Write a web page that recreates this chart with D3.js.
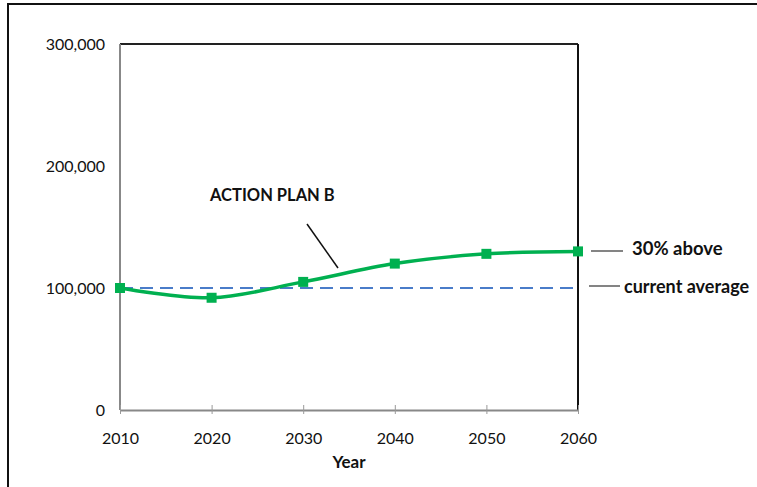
<!DOCTYPE html>
<html>
<head>
<meta charset="utf-8">
<script src="https://cdn.jsdelivr.net/npm/d3@7"></script>
<style>
  body { margin: 0; background: #fff; }
  text { font-family: Lato, "Open Sans", sans-serif; fill: #111; }
</style>
</head>
<body>
<svg width="757" height="487"></svg>
<script>
var years = [2010, 2020, 2030, 2040, 2050, 2060];
var planB = [100000, 92000, 105000, 120000, 128000, 130000];
var currentAverage = 100000;
var yTicks = [0, 100000, 200000, 300000];

var svg = d3.select("svg");

// outer frame
svg.append("path")
  .attr("d", "M8,487 V4 H757")
  .attr("fill", "none")
  .attr("stroke", "#111")
  .attr("stroke-width", 2);

var plotL = 120, plotR = 578, plotT = 44, plotB = 410;

var x = d3.scaleLinear().domain([2010, 2060]).range([plotL, plotR]);
var y = d3.scaleLinear().domain([0, 300000]).range([plotB, plotT]);

// plot borders
svg.append("line").attr("x1", plotL).attr("x2", plotR).attr("y1", plotT).attr("y2", plotT)
  .attr("stroke", "#222").attr("stroke-width", 2);
svg.append("line").attr("x1", plotR).attr("x2", plotR).attr("y1", plotT).attr("y2", plotB)
  .attr("stroke", "#111").attr("stroke-width", 2);
svg.append("line").attr("x1", plotL).attr("x2", plotL).attr("y1", plotT).attr("y2", plotB)
  .attr("stroke", "#888").attr("stroke-width", 2);

// x axis
var xAxis = d3.axisBottom(x).tickValues(years).tickFormat(d3.format("d"))
  .tickSizeInner(9).tickSizeOuter(0).tickPadding(14);
var gx = svg.append("g")
  .attr("transform", "translate(0," + plotB + ")")
  .call(xAxis);
gx.select(".domain").attr("stroke", "#888").attr("stroke-width", 2);
gx.selectAll(".tick line").attr("stroke", "#999").attr("transform", "translate(0,-5)");
gx.selectAll(".tick text").style("font-size", "16px").attr("fill", "#111");

// y axis labels
var yAxis = d3.axisLeft(y).tickValues(yTicks).tickFormat(d3.format(",")).tickSize(0).tickPadding(15);
var gy = svg.append("g")
  .attr("transform", "translate(" + plotL + ",0)")
  .call(yAxis);
gy.select(".domain").remove();
gy.selectAll(".tick text").style("font-size", "16px").attr("fill", "#111");

svg.append("text")
  .attr("x", (plotL + plotR) / 2)
  .attr("y", 468)
  .attr("text-anchor", "middle")
  .style("font-size", "17px")
  .style("font-weight", "bold")
  .text("Year");

// current average dashed line
svg.append("line")
  .attr("x1", x(2010)).attr("x2", x(2060))
  .attr("y1", y(currentAverage)).attr("y2", y(currentAverage))
  .attr("stroke", "#4a7cc9")
  .attr("stroke-width", 2)
  .attr("stroke-dasharray", "13,7");

// plan B line
var pts = years.map(function(d, i) { return [x(d), y(planB[i])]; });
svg.append("path")
  .attr("d", d3.line().curve(d3.curveCatmullRom.alpha(0.5))(pts))
  .attr("fill", "none")
  .attr("stroke", "#00b050")
  .attr("stroke-width", 3.5);

svg.selectAll("rect.pt")
  .data(pts)
  .enter()
  .append("rect")
  .attr("class", "pt")
  .attr("x", function(d) { return d[0] - 5; })
  .attr("y", function(d) { return d[1] - 5; })
  .attr("width", 10)
  .attr("height", 10)
  .attr("fill", "#00b050");

// annotations
svg.append("text").attr("x", 210).attr("y", 201)
  .style("font-size", "16.5px").style("font-weight", "bold").text("ACTION PLAN B");
svg.append("line").attr("x1", 307).attr("y1", 224).attr("x2", 338).attr("y2", 268)
  .attr("stroke", "#111").attr("stroke-width", 1.5);

svg.append("line").attr("x1", 591).attr("y1", 251).attr("x2", 623).attr("y2", 251)
  .attr("stroke", "#333").attr("stroke-width", 1.2);
svg.append("text").attr("x", 632).attr("y", 255)
  .style("font-size", "18.5px").style("font-weight", "bold").text("30% above");

svg.append("line").attr("x1", 589).attr("y1", 286).attr("x2", 620).attr("y2", 286)
  .attr("stroke", "#333").attr("stroke-width", 1.2);
svg.append("text").attr("x", 624).attr("y", 293)
  .style("font-size", "18px").style("font-weight", "bold").text("current average");
</script>
</body>
</html>
